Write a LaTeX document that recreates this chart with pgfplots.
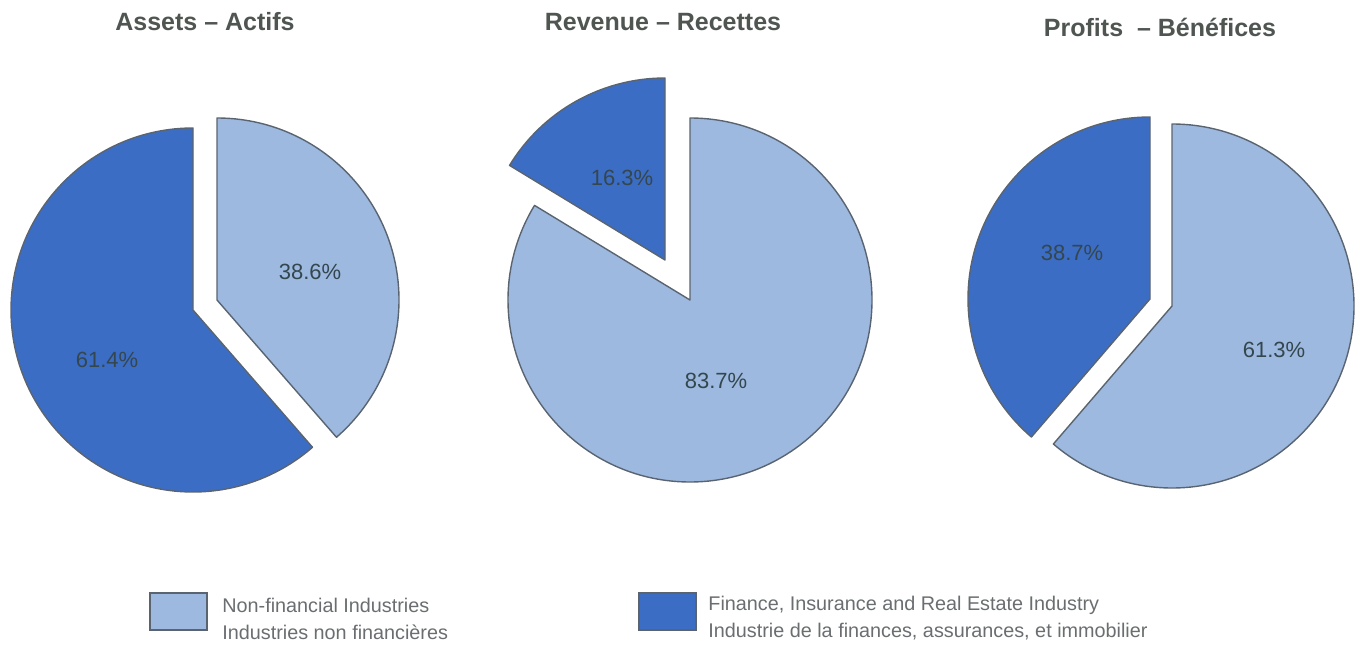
\documentclass[border=0pt]{standalone}
\usepackage{pgfplots}
\pgfplotsset{compat=1.18}
\usepackage{fontspec}
\setmainfont{Liberation Sans}
\definecolor{light}{HTML}{9DB9DF}
\definecolor{dark}{HTML}{3C6DC5}
\definecolor{edge}{HTML}{5A6470}
\definecolor{titlec}{HTML}{4F5550}
\definecolor{labelc}{HTML}{34474F}
\definecolor{legc}{HTML}{6A6E70}
% #1,#2 centre (axis units = pixels), #3 start angle, #4 end angle, #5 colour
\newcommand{\slice}[5]{%
  \filldraw[fill=#5, draw=edge, line width=0.7pt, line join=round]
    (axis cs:#1,#2) -- ++({#3}:91pt) arc[start angle={#3}, end angle={#4}, radius=91pt] -- cycle;}
\begin{document}
\begin{tikzpicture}
\begin{axis}[x=0.5pt, y=0.5pt, xmin=0, xmax=1355, ymin=0, ymax=649,
  hide axis, clip=false, scale only axis]
\path (axis cs:0,0) rectangle (axis cs:1355,649);
% Assets: non-financial 38.6, finance 61.4
\slice{193}{339}{90}{90+3.6*61.4}{dark}
\slice{217}{349}{90}{90-3.6*38.6}{light}
% Revenue: non-financial 83.7, finance 16.3
\slice{690}{349}{90}{90-3.6*83.7}{light}
\slice{665}{389}{90}{90+3.6*16.3}{dark}
% Profits: non-financial 61.3, finance 38.7
\slice{1172}{343}{90}{90-3.6*61.3}{light}
\slice{1150}{350}{90}{90+3.6*38.7}{dark}
% percentages
\begin{scope}[every node/.style={font=\fontsize{11}{13}\selectfont, text=labelc}]
\node at (axis cs:310,377) {38.6\%};
\node at (axis cs:107,289) {61.4\%};
\node at (axis cs:622,471) {16.3\%};
\node at (axis cs:716,268) {83.7\%};
\node at (axis cs:1072,396) {38.7\%};
\node at (axis cs:1274,299) {61.3\%};
\end{scope}
% titles
\begin{scope}[every node/.style={font=\fontsize{12.5}{15}\selectfont\bfseries, text=titlec}]
\node at (axis cs:205,627) {Assets -- Actifs};
\node at (axis cs:663,627) {Revenue\ -- Recettes};
\node at (axis cs:1160,622) {Profits\ \ -- Bénéfices};
\end{scope}
% legend
\filldraw[fill=light, draw=edge, line width=0.7pt] (axis cs:150,56) rectangle (axis cs:207,19);
\filldraw[fill=dark, draw=edge, line width=0.7pt] (axis cs:639,56) rectangle (axis cs:696,19);
\begin{scope}[every node/.style={font=\fontsize{9.9}{12}\selectfont, text=legc, anchor=west, inner sep=0pt}]
\node at (axis cs:222,44) {Non-financial Industries};
\node at (axis cs:222,17) {Industries non financières};
\node at (axis cs:708,44) {Finance, Insurance and Real Estate Industry};
\node at (axis cs:708,17) {Industrie de la finances, assurances, et immobilier};
\end{scope}
\end{axis}
\end{tikzpicture}
\end{document}
